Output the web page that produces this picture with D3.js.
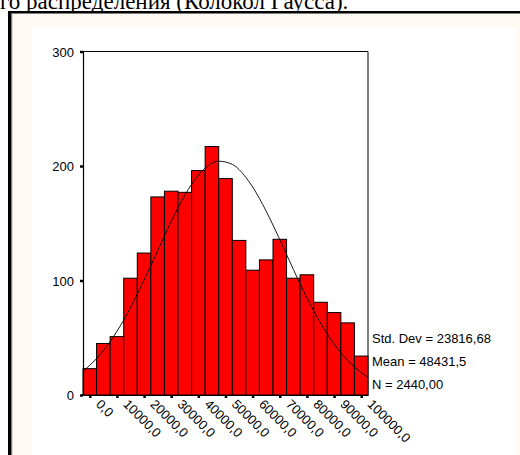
<!DOCTYPE html>
<html>
<head>
<meta charset="utf-8">
<script src="https://cdn.jsdelivr.net/npm/d3@7"></script>
<style>
  html, body { margin: 0; padding: 0; background: #fff; overflow: hidden; }
  svg { display: block; }
  .lbl { font-family: "Liberation Sans", Arial, sans-serif; font-size: 13px; fill: #000; }
</style>
</head>
<body>
<div id="chart"></div>
<script>
// bins are centred on multiples of 5000 (0 .. 100000)
const binCenters = [0, 5000, 10000, 15000, 20000, 25000, 30000, 35000, 40000, 45000, 50000,
  55000, 60000, 65000, 70000, 75000, 80000, 85000, 90000, 95000, 100000];
const binCounts = [23, 45, 51, 102, 124, 173, 178, 177, 196, 217, 189,
  135, 109, 118, 136, 102, 105, 81, 72, 63, 34];

// fitted normal curve at bin edges
const curveX = [-2500, 2500, 7500, 12500, 17500, 22500, 27500, 32500, 37500, 42500, 47500,
  52500, 57500, 62500, 67500, 72500, 77500, 82500, 87500, 92500, 97500, 102500];
const curveY = [20.8, 31.8, 46.7, 65.5, 88.0, 113.0, 138.9, 163.4, 184.0, 198.2, 204.2,
  201.4, 190.1, 171.7, 148.4, 122.7, 97.0, 73.5, 53.2, 36.9, 24.5, 15.5];

const yTicks = [0, 100, 200, 300];
const xTicks = [0, 10000, 20000, 30000, 40000, 50000, 60000, 70000, 80000, 90000, 100000];
const statsLines = ["Std. Dev = 23816,68", "Mean = 48431,5", "N = 2440,00"];
const caption = "го распределения (Колокол Гаусса).";

const W = 520, H = 455;
const svg = d3.select('#chart').append('svg')
  .attr('width', W).attr('height', H);

// page caption (cut at the top)
svg.append('text')
  .attr('x', 0).attr('y', 8.5)
  .style('font-family', '"Liberation Serif", "Times New Roman", serif')
  .style('font-size', '23px')
  .text(caption);

// frame
svg.append('rect').attr('x', 11).attr('y', 13).attr('width', W - 11).attr('height', H - 13)
  .attr('fill', '#fffaf4');
svg.append('rect').attr('x', 32).attr('y', 28).attr('width', 484).attr('height', H - 28)
  .attr('fill', '#fff');
svg.append('rect').attr('x', 8).attr('y', 11).attr('width', W - 8).attr('height', 2.5)
  .attr('fill', '#000');
svg.append('rect').attr('x', 8).attr('y', 11).attr('width', 3).attr('height', H - 11)
  .attr('fill', '#000');
svg.append('rect').attr('x', 11).attr('y', 13).attr('width', 1.3).attr('height', H - 13)
  .attr('fill', '#808080');

// plot area
const plotL = 83, plotR = 368, plotT = 51.5, plotB = 395;
const binW = 5000;

const x = d3.scaleLinear().domain([-2500, 102500]).range([plotL, plotR]);
const y = d3.scaleLinear().domain([0, 300]).range([plotB, plotT]);

// top and right border of the plot
svg.append('path')
  .attr('d', `M${plotL},${plotT}H${plotR}V${plotB}`)
  .attr('fill', 'none').attr('stroke', '#000').attr('stroke-width', 1);

// bars
svg.selectAll('.bar')
  .data(binCenters)
  .enter()
  .append('rect')
  .attr('class', 'bar')
  .attr('x', (d) => x(d - binW / 2))
  .attr('y', (d, i) => y(binCounts[i]))
  .attr('width', x(binW) - x(0))
  .attr('height', (d, i) => y(0) - y(binCounts[i]))
  .attr('fill', '#ff0000')
  .attr('stroke', '#000')
  .attr('stroke-width', 1);

// normal curve
const line = d3.line()
  .x((d, i) => x(curveX[i]))
  .y((d) => y(d))
  .curve(d3.curveMonotoneX);
svg.append('path')
  .datum(curveY)
  .attr('d', line)
  .attr('fill', 'none')
  .attr('stroke', '#000')
  .attr('stroke-width', 0.9);

// y axis
const yAxis = svg.append('g')
  .attr('transform', `translate(${plotL},0)`)
  .call(d3.axisLeft(y).tickValues(yTicks).tickSize(3).tickPadding(6).tickSizeOuter(0));
yAxis.select('.domain').attr('stroke', '#000').attr('stroke-width', 1.2);
yAxis.selectAll('.tick line').attr('stroke', '#000').attr('stroke-width', 2.5);
yAxis.selectAll('.tick text').attr('class', 'lbl').attr('dy', '0.35em');

// x axis
const fmt = (d) => d3.format('.1f')(d).replace('.', ',');
const xAxis = svg.append('g')
  .attr('transform', `translate(0,${plotB})`)
  .call(d3.axisBottom(x).tickValues(xTicks).tickSize(3).tickSizeOuter(0).tickFormat(fmt));
xAxis.select('.domain').attr('stroke', '#000').attr('stroke-width', 1.2);
xAxis.selectAll('.tick line').attr('stroke', '#000').attr('stroke-width', 2.5);
xAxis.selectAll('.tick text')
  .attr('class', 'lbl')
  .attr('text-anchor', 'start')
  .attr('x', 0).attr('y', 0).attr('dy', 0)
  .attr('transform', 'translate(5,10) rotate(45)');

// stats
svg.selectAll('.stat')
  .data(statsLines)
  .enter()
  .append('text')
  .attr('class', 'lbl')
  .attr('x', plotR + 4)
  .attr('y', (d, i) => 342.5 + i * 23)
  .text((d) => d);
</script>
</body>
</html>
